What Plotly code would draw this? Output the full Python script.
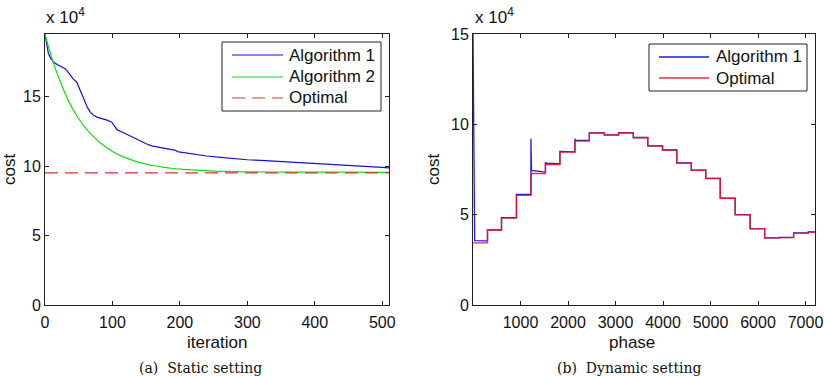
import plotly.graph_objects as go

# ---------------- data (cost in units of 10^4) ----------------
# (a) static setting
alg1_iter = [0, 2, 5, 8, 12, 18, 25, 30, 35, 38, 42, 47, 52, 55, 59, 63, 67, 72, 78, 85, 92, 99,
             103, 107, 112, 120, 128, 135, 142, 150, 158, 166, 175, 185, 192, 198, 210, 225, 240,
             260, 280, 300, 320, 340, 360, 380, 400, 420, 440, 460, 480, 500, 510]
alg1_cost = [19.5, 19.0, 18.1, 17.8, 17.5, 17.3, 17.15, 17.0, 16.7, 16.5, 16.25, 16.05, 15.5, 15.1,
             14.6, 14.2, 13.9, 13.65, 13.5, 13.42, 13.3, 13.15, 12.9, 12.6, 12.5, 12.3, 12.15, 11.95,
             11.8, 11.6, 11.45, 11.38, 11.3, 11.25, 11.15, 11.02, 10.92, 10.82, 10.72, 10.62, 10.52,
             10.45, 10.4, 10.35, 10.26, 10.2, 10.15, 10.1, 10.06, 10.02, 9.97, 9.9, 9.86]

alg2_iter = [0, 5, 10, 15, 20, 25, 30, 40, 50, 60, 70, 80, 90, 100, 112, 125, 137, 150, 162, 175,
             187, 200, 225, 250, 275, 300, 350, 400, 450, 510]
alg2_cost = [19.5, 18.6, 17.8, 17.05, 16.4, 15.8, 15.2, 14.2, 13.4, 12.75, 12.2, 11.75, 11.37,
             11.05, 10.75, 10.5, 10.3, 10.14, 10.02, 9.92, 9.84, 9.78, 9.7, 9.64, 9.61, 9.58,
             9.565, 9.56, 9.555, 9.55]

optimal_static = 9.5
iter_ticks = [0, 100, 200, 300, 400, 500]

# (b) dynamic setting
phase_edges = [0, 305, 600, 915, 1220, 1525, 1830, 2145, 2450, 2765, 3065, 3375, 3680, 3990,
               4290, 4595, 4900, 5205, 5520, 5835, 6140, 6440, 6750, 7060, 7200]
optimal_levels = [3.44, 4.13, 4.81, 6.07, 7.28, 7.78, 8.46, 9.07, 9.52, 9.41, 9.52, 9.26, 8.80,
                  8.57, 7.85, 7.46, 7.00, 5.91, 4.99, 4.22, 3.71, 3.73, 3.98, 4.04]
alg1_step_start = [15.0, 4.15, 4.84, 6.12, 9.20, 7.92, 8.50, 9.20, 9.53, 9.42, 9.54, 9.27, 8.81,
                   8.58, 7.87, 7.47, 7.01, 5.92, 5.00, 4.23, 3.72, 3.74, 3.99, 4.05]
alg1_step_settle = [3.56, 4.15, 4.84, 6.12, 7.45, 7.85, 8.49, 9.13, 9.53, 9.42, 9.54, 9.27, 8.81,
                    8.58, 7.87, 7.47, 7.01, 5.92, 5.00, 4.23, 3.72, 3.74, 3.99, 4.05]
alg1_step_end = [3.55, 4.15, 4.84, 6.12, 7.36, 7.82, 8.48, 9.11, 9.53, 9.42, 9.54, 9.27, 8.81,
                 8.58, 7.87, 7.47, 7.01, 5.92, 5.00, 4.23, 3.72, 3.74, 3.99, 4.05]
alg1_settle_time = [35, 0, 0, 0, 12, 10, 0, 8, 0, 0, 0, 0, 0, 0, 0, 0, 0, 0, 0, 0, 0, 0, 0, 0]
phase_ticks = [1000, 2000, 3000, 4000, 5000, 6000, 7000]
cost_ticks = [0, 5, 10, 15]

# ---------------- build traces ----------------
opt_x, opt_y = [], []
for i, lvl in enumerate(optimal_levels):
    opt_x += [phase_edges[i], phase_edges[i + 1]]
    opt_y += [lvl, lvl]

a1_x, a1_y = [], []
for i in range(len(optimal_levels)):
    s, e = phase_edges[i], phase_edges[i + 1]
    a1_x.append(s)
    a1_y.append(alg1_step_start[i])
    if alg1_settle_time[i] > 0:
        a1_x.append(s + alg1_settle_time[i])
        a1_y.append(alg1_step_settle[i])
    a1_x.append(e)
    a1_y.append(alg1_step_end[i])

W, H = 824, 376
def px(x):
    return x / W
def py(y):
    return (H - y) / H

FONT = "Liberation Sans, Arial, Helvetica, sans-serif"
SERIF = "DejaVu Serif, serif"
TXT = "#111"
FS = 17
TFS = 16

BLUE_L = "#1010e0"
GREEN_L = "#10e010"
RED_L = "#e03030"
BLUE_R = "#1a1ae6"
RED_R = "rgba(235,20,50,0.9)"

fig = go.Figure()

fig.add_trace(go.Scatter(x=alg1_iter, y=alg1_cost, mode="lines", name="Algorithm 1",
                         line=dict(color=BLUE_L, width=1.2), xaxis="x", yaxis="y"))
fig.add_trace(go.Scatter(x=alg2_iter, y=alg2_cost, mode="lines", name="Algorithm 2",
                         line=dict(color=GREEN_L, width=1.2, shape="spline"),
                         xaxis="x", yaxis="y"))
fig.add_trace(go.Scatter(x=[0, 510], y=[optimal_static, optimal_static], mode="lines",
                         name="Optimal", line=dict(color=RED_L, width=1.2, dash="13px,7px"),
                         xaxis="x", yaxis="y"))

fig.add_trace(go.Scatter(x=a1_x, y=a1_y, mode="lines", name="Algorithm 1",
                         line=dict(color=BLUE_R, width=1.3), xaxis="x2", yaxis="y2"))
fig.add_trace(go.Scatter(x=opt_x, y=opt_y, mode="lines", name="Optimal",
                         line=dict(color=RED_R, width=1.4), xaxis="x2", yaxis="y2"))

axis_common = dict(showline=True, linecolor="#222", linewidth=1, mirror="allticks",
                   ticks="inside", ticklen=4, tickcolor="#222", showgrid=False, zeroline=False,
                   tickfont=dict(family=FONT, size=TFS, color=TXT))

ydom = [py(305), py(34)]
fig.update_layout(
    width=W, height=H, margin=dict(l=0, r=0, t=0, b=0, pad=0, autoexpand=False),
    paper_bgcolor="white", plot_bgcolor="white", showlegend=False,
    xaxis=dict(domain=[px(45), px(389)], range=[0, 510], tickvals=iter_ticks, anchor="y",
               ticklabelstandoff=3, **axis_common),
    yaxis=dict(domain=ydom, range=[0, 19.5], tickvals=cost_ticks, anchor="x", **axis_common),
    xaxis2=dict(domain=[px(473), px(815)], range=[0, 7200], tickvals=phase_ticks, anchor="y2",
                ticklabelstandoff=3, **axis_common),
    yaxis2=dict(domain=ydom, range=[0, 15], tickvals=cost_ticks, anchor="x2", **axis_common),
)

# manual legends (box, line samples, labels)
shapes = []
annots = []
def legend(box, rows, x_line, x_text):
    x0, y0, x1, y1 = box
    shapes.append(dict(type="rect", xref="paper", yref="paper", x0=px(x0), x1=px(x1),
                       y0=py(y1), y1=py(y0), line=dict(color="#222", width=1),
                       fillcolor="white", layer="above"))
    for (ry, name, line) in rows:
        shapes.append(dict(type="line", xref="paper", yref="paper", x0=px(x_line[0]),
                           x1=px(x_line[1]), y0=py(ry), y1=py(ry), line=line, layer="above"))
        annots.append(dict(text=name, x=px(x_text), y=py(ry), xanchor="left", yanchor="middle",
                           font=dict(family=FONT, size=FS, color=TXT)))

legend((222, 42, 381, 111),
       [(55, "Algorithm 1", dict(color=BLUE_L, width=1.2)),
        (77, "Algorithm 2", dict(color=GREEN_L, width=1.2)),
        (98, "Optimal", dict(color=RED_L, width=1.2, dash="13px,7px"))],
       (232, 283), 287)
legend((649, 44, 807, 91),
       [(57, "Algorithm 1", dict(color=BLUE_R, width=1.3)),
        (78, "Optimal", dict(color=RED_R, width=1.4))],
       (659, 709), 714)

annots += [
    dict(text="x 10<sup>4</sup>", x=px(44), y=py(29), xanchor="left", yanchor="bottom",
         font=dict(family=FONT, size=FS, color=TXT)),
    dict(text="x 10<sup>4</sup>", x=px(473), y=py(29), xanchor="left", yanchor="bottom",
         font=dict(family=FONT, size=FS, color=TXT)),
    dict(text="cost", x=px(9), y=py(170), textangle=-90, xanchor="center", yanchor="middle",
         font=dict(family=FONT, size=FS, color=TXT)),
    dict(text="cost", x=px(433), y=py(170), textangle=-90, xanchor="center", yanchor="middle",
         font=dict(family=FONT, size=FS, color=TXT)),
    dict(text="iteration", x=px(217), y=py(342), xanchor="center", yanchor="middle",
         font=dict(family=FONT, size=FS, color=TXT)),
    dict(text="phase", x=px(632), y=py(342), xanchor="center", yanchor="middle",
         font=dict(family=FONT, size=FS, color=TXT)),
    dict(text="(a)\u00a0\u00a0Static setting", x=px(200), y=py(368), xanchor="center",
         yanchor="middle", font=dict(family=SERIF, size=14, color=TXT)),
    dict(text="(b)\u00a0\u00a0Dynamic setting", x=px(629), y=py(368), xanchor="center",
         yanchor="middle", font=dict(family=SERIF, size=14, color=TXT)),
]
for a in annots:
    a.update(xref="paper", yref="paper", showarrow=False)
fig.update_layout(annotations=annots, shapes=shapes)

fig.write_html("out.html",
               post_script="document.body.style.margin='0';document.body.style.padding='0';"
                           "document.body.style.overflow='hidden';")
